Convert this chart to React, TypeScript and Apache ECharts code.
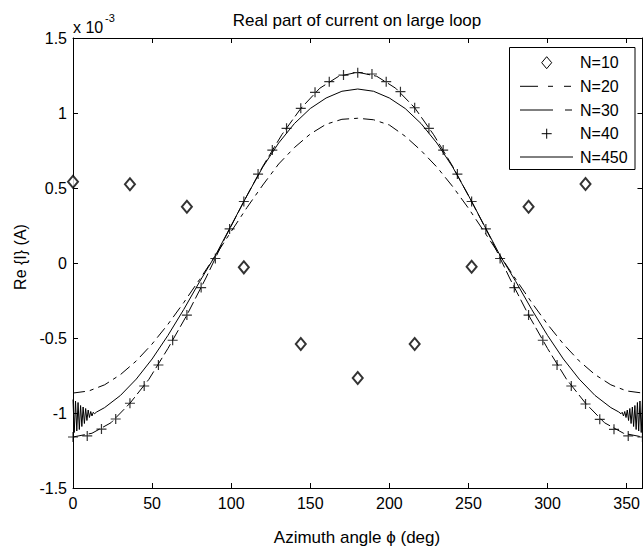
import React, { useEffect, useRef } from "react";
import * as echarts from "echarts";

// Values are in units of 1e-3 A
const phiN10 = [0, 36, 72, 108, 144, 180, 216, 252, 288, 324];
const reN10 = [0.542, 0.525, 0.375, -0.029, -0.54, -0.767, -0.54, -0.025, 0.375, 0.527];

const phiN20 = [0, 10, 20, 30, 40, 50, 60, 70, 80, 90, 100, 110, 120, 130, 140, 150, 160, 170, 180,
  190, 200, 210, 220, 230, 240, 250, 260, 270, 280, 290, 300, 310, 320, 330, 340, 350, 360];
const reN20 = [-0.867, -0.853, -0.812, -0.744, -0.653, -0.540, -0.409, -0.264, -0.110, 0.049, 0.21, 0.37,
  0.52, 0.66, 0.77, 0.86, 0.925, 0.958, 0.965, 0.955, 0.92, 0.845, 0.75, 0.64, 0.51, 0.365, 0.208,
  0.049, -0.110, -0.264, -0.409, -0.540, -0.653, -0.744, -0.812, -0.853, -0.867];

const phiN30 = [0, 12, 24, 36, 48, 60, 72, 84, 96, 108, 120, 132, 144, 156, 168, 180, 192, 204, 216,
  228, 240, 252, 264, 276, 288, 300, 312, 324, 336, 348, 360];
const reN30 = [-1.16, -1.135, -1.065, -0.935, -0.775, -0.57, -0.347, -0.1, 0.165, 0.41, 0.645, 0.855,
  1.03, 1.165, 1.245, 1.272, 1.245, 1.165, 1.035, 0.855, 0.645, 0.41, 0.165, -0.1, -0.347, -0.57,
  -0.775, -0.935, -1.065, -1.135, -1.16];

const phiN40 = [0, 9, 18, 27, 36, 45, 54, 63, 72, 81, 90, 99, 108, 117, 126, 135, 144, 153, 162, 171,
  180, 189, 198, 207, 216, 225, 234, 243, 252, 261, 270, 279, 288, 297, 306, 315, 324, 333, 342, 351, 360];
const reN40 = [-1.16, -1.153, -1.107, -1.04, -0.935, -0.82, -0.68, -0.515, -0.347, -0.164, 0.03, 0.227,
  0.41, 0.593, 0.753, 0.898, 1.031, 1.138, 1.209, 1.253, 1.269, 1.26, 1.209, 1.142, 1.035, 0.898,
  0.753, 0.593, 0.41, 0.227, 0.03, -0.164, -0.347, -0.515, -0.68, -0.82, -0.94, -1.042, -1.109,
  -1.153, -1.16];

const phiN450 = [0, 0.8, 1.6, 2.4, 3.2, 4.0, 4.8, 5.6, 6.4, 7.2, 8.0, 8.8, 9.6, 10.4, 11.2, 12.0, 12.8,
  13.6, 15, 20, 30, 40, 50, 60, 70, 80, 90, 100, 110, 120, 130, 140, 150, 160, 170, 180, 190, 200, 210,
  220, 230, 240, 250, 260, 270, 280, 290, 300, 310, 320, 330, 340, 345, 346.4, 347.2, 348.0, 348.8,
  349.6, 350.4, 351.2, 352.0, 352.8, 353.6, 354.4, 355.2, 356.0, 356.8, 357.6, 358.4, 359.2, 360];
const reN450 = [-0.91, -1.13, -0.92, -1.12, -0.93, -1.11, -0.95, -1.09, -0.96, -1.07, -0.97, -1.05,
  -0.98, -1.03, -0.99, -1.02, -0.995, -1.005, -0.993, -0.964, -0.883, -0.774, -0.64, -0.483, -0.31,
  -0.125, 0.05, 0.25, 0.45, 0.64, 0.80, 0.93, 1.03, 1.10, 1.145, 1.16, 1.145, 1.10, 1.03, 0.93, 0.80,
  0.64, 0.45, 0.25, 0.05, -0.125, -0.31, -0.483, -0.64, -0.774, -0.883, -0.964, -0.993, -1.005, -0.995,
  -1.02, -0.99, -1.03, -0.98, -1.05, -0.97, -1.07, -0.96, -1.09, -0.95, -1.11, -0.93, -1.12, -0.92,
  -1.13, -0.91];

const legendLabels = ["N=10", "N=20", "N=30", "N=40", "N=450"];
const xTitle = "Azimuth angle \u03D5 (deg)";
const yTitle = "Re {I} (A)";
const chartTitle = "Real part of current on large loop";

const FONT = "'Liberation Sans', Arial, Helvetica, sans-serif";

const zip = (xs: number[], ys: number[]) => xs.map((x, i) => [x, ys[i]]);

export default function App() {
  const ref = useRef<HTMLDivElement>(null);
  useEffect(() => {
    if (!ref.current) return;
    const chart = echarts.init(ref.current, null, { renderer: "svg" });
    const axisCommon = {
      type: "value" as const,
      axisLine: { show: true, onZero: false, lineStyle: { color: "#000", width: 1 } },
      axisTick: { show: true, inside: true, length: 5, lineStyle: { color: "#000", width: 1 } },
      splitLine: { show: false },
    };
    const lineLS = { color: "#000", width: 1 };
    const legendRows = [62.7, 86.3, 110, 133.7, 157];
    const lx0 = 520, lx1 = 573, mx = 546.7;
    const seg = (x1: number, x2: number, y: number) => ({
      type: "line", shape: { x1, y1: y, x2, y2: y }, style: { stroke: "#000", lineWidth: 1 }, silent: true,
    });
    const graphic: any[] = [
      { type: "text", x: 357, y: 20, style: { text: chartTitle, font: `17px ${FONT}`, fill: "#000", align: "center", verticalAlign: "middle" } },
      { type: "text", x: 73, y: 27, style: { text: "x 10", font: `16px ${FONT}`, fill: "#000", align: "left", verticalAlign: "middle" } },
      { type: "text", x: 105, y: 18, style: { text: "-3", font: `11px ${FONT}`, fill: "#000", align: "left", verticalAlign: "middle" } },
      { type: "text", x: 357, y: 537, style: { text: xTitle, font: `17px ${FONT}`, fill: "#000", align: "center", verticalAlign: "middle" } },
      { type: "text", x: 20, y: 257, rotation: Math.PI / 2, style: { text: yTitle, font: `16px ${FONT}`, fill: "#000", align: "center", verticalAlign: "middle" } },
      { type: "rect", shape: { x: 509.5, y: 47.5, width: 125.5, height: 122 }, style: { fill: "#fff", stroke: "#000", lineWidth: 1 }, z: 100 },
    ];
    const legendItems: any[] = [];
    legendItems.push({ type: "polygon", shape: { points: [[mx, legendRows[0] - 6], [mx + 5, legendRows[0]], [mx, legendRows[0] + 6], [mx - 5, legendRows[0]]] }, style: { fill: "none", stroke: "#000", lineWidth: 1 } });
    legendItems.push(seg(lx0, 538, legendRows[1]), seg(548, 553, legendRows[1]), seg(564, 571, legendRows[1]));
    legendItems.push(seg(lx0, 553, legendRows[2]), seg(565, 572, legendRows[2]));
    legendItems.push(seg(mx - 5, mx + 5, legendRows[3]), { type: "line", shape: { x1: mx, y1: legendRows[3] - 5, x2: mx, y2: legendRows[3] + 5 }, style: { stroke: "#000", lineWidth: 1 } });
    legendItems.push(seg(lx0, lx1, legendRows[4]));
    legendLabels.forEach((t, i) => {
      legendItems.push({ type: "text", x: 580, y: legendRows[i], style: { text: t, font: `16px ${FONT}`, fill: "#000", align: "left", verticalAlign: "middle" } });
    });
    legendItems.forEach((g) => { g.z = 101; graphic.push(g); });

    chart.setOption({
      animation: false,
      backgroundColor: "#fff",
      grid: { left: 73, top: 38, width: 570, height: 450, containLabel: false },
      xAxis: [
        { ...axisCommon, position: "bottom", min: 0, max: 360, interval: 50,
          axisLabel: { show: true, color: "#000", fontFamily: FONT, fontSize: 16, margin: 7, showMaxLabel: false } },
        { ...axisCommon, position: "top", min: 0, max: 360, interval: 50, axisLabel: { show: false } },
      ],
      yAxis: [
        { ...axisCommon, position: "left", min: -1.5, max: 1.5, interval: 0.5,
          axisLabel: { show: true, color: "#000", fontFamily: FONT, fontSize: 16, margin: 6,
            formatter: (v: number) => String(Math.round(v * 10) / 10) } },
        { ...axisCommon, position: "right", min: -1.5, max: 1.5, interval: 0.5, axisLabel: { show: false } },
      ],
      graphic,
      series: [
        { name: "N=20", type: "line", data: zip(phiN20, reN20), showSymbol: false, smooth: false,
          lineStyle: { ...lineLS, type: [12, 5, 4, 5] } },
        { name: "N=30", type: "line", data: zip(phiN30, reN30), showSymbol: false, smooth: false,
          lineStyle: { ...lineLS, type: [12, 4] } },
        { name: "N=450", type: "line", data: zip(phiN450, reN450), showSymbol: false, smooth: false,
          lineStyle: { ...lineLS, type: "solid" } },
        { name: "N=10", type: "scatter", data: zip(phiN10, reN10), symbol: "emptyDiamond", symbolSize: [10, 12], clip: false,
          itemStyle: { color: "#000", borderColor: "#000", borderWidth: 1 } },
        { name: "N=40", type: "scatter", data: zip(phiN40, reN40), symbol: "path://M5 0 L5 10 M0 5 L10 5", symbolSize: 10, clip: false,
          itemStyle: { color: "none", borderColor: "#000", borderWidth: 1.2 } },
      ],
    });
    return () => chart.dispose();
  }, []);
  return <div ref={ref} style={{ position: "absolute", left: 0, top: 0, width: 643, height: 546 }} />;
}
